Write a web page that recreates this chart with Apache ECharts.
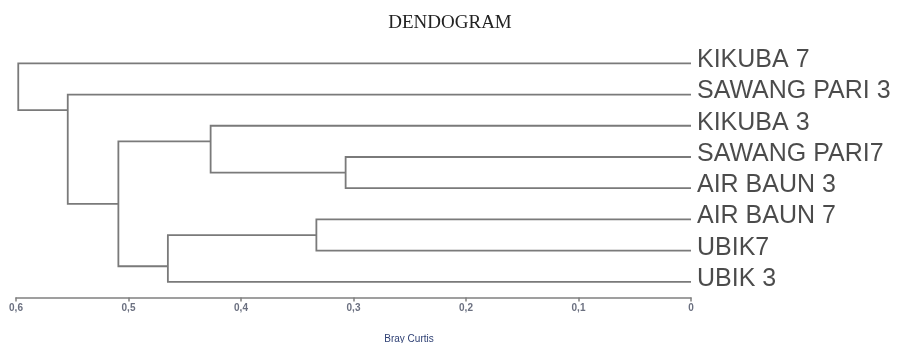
<!DOCTYPE html>
<html>
<head>
<meta charset="utf-8">
<script src="https://cdn.jsdelivr.net/npm/echarts@6/dist/echarts.min.js"></script>
<style>html,body{margin:0;padding:0;background:#fff}#c{width:900px;height:343px}</style>
</head>
<body>
<div id="c"></div>
<script>
// Leaves, top to bottom
const leaves = ['KIKUBA 7', 'SAWANG PARI 3', 'KIKUBA 3', 'SAWANG PARI7', 'AIR BAUN 3', 'AIR BAUN 7', 'UBIK7', 'UBIK 3'];
// Merges: node ids 0..7 are leaves, merge k creates node 8+k
const mergeA = [3, 5, 2, 9, 10, 1, 0];
const mergeB = [4, 6, 8, 7, 11, 12, 13];
const mergeHeight = [0.307, 0.333, 0.427, 0.465, 0.509, 0.554, 0.598];
const xTicks = [0, 0.1, 0.2, 0.3, 0.4, 0.5, 0.6];
const xName = 'Bray Curtis';
const titleText = 'DENDOGRAM';

// layout of nodes along the leaf axis
const n = leaves.length;
const nodeH = [], nodeY = [], firstLeaf = [], lastLeaf = [];
for (let i = 0; i < n; i++) { nodeH[i] = 0; nodeY[i] = i; firstLeaf[i] = i; lastLeaf[i] = i; }
mergeA.forEach((a, k) => {
  const b = mergeB[k], id = n + k;
  nodeH[id] = mergeHeight[k];
  firstLeaf[id] = Math.min(firstLeaf[a], firstLeaf[b]);
  lastLeaf[id] = Math.max(lastLeaf[a], lastLeaf[b]);
  nodeY[id] = (lastLeaf[a] + firstLeaf[b]) / 2;
});
const links = mergeA.map((a, k) => {
  const b = mergeB[k];
  return [mergeHeight[k], nodeY[a], nodeY[b], nodeH[a], nodeH[b]];
});

const chart = echarts.init(document.getElementById('c'));
chart.setOption({
  animation: false,
  title: [
    { text: titleText, left: 'center', top: 9,
      textStyle: { fontFamily: 'Liberation Serif', fontSize: 19, fontWeight: 'normal', color: '#222' } },
    { text: xName, left: 404, top: 329, textAlign: 'center',
      textStyle: { fontFamily: 'Liberation Sans', fontSize: 10, fontWeight: 'normal', color: '#2d3f73' } }
  ],
  grid: { left: 16, right: 209, top: 63.3, bottom: 45.5 },
  xAxis: {
    type: 'value', inverse: true, min: 0, max: 0.6, interval: 0.1,
    position: 'bottom',
    splitLine: { show: false },
    axisLine: { show: true, onZero: false, lineStyle: { color: '#808080', width: 1.5 } },
    axisTick: { show: true, length: 4, lineStyle: { color: '#808080', width: 1.5 } },
    axisLabel: { margin: 6, fontFamily: 'Liberation Sans', fontSize: 10, fontWeight: 'bold', color: '#6b7080',
      formatter: v => String(+v.toFixed(1)).replace('.', ',') }
  },
  yAxis: {
    type: 'value', inverse: true, min: 0, max: 7.5, show: false
  },
  series: [
    {
      type: 'custom',
      data: links,
      renderItem: (params, api) => {
        const h = api.value(0), ya = api.value(1), yb = api.value(2), ha = api.value(3), hb = api.value(4);
        const pts = [api.coord([ha, ya]), api.coord([h, ya]), api.coord([h, yb]), api.coord([hb, yb])];
        return { type: 'polyline', shape: { points: pts },
          style: { stroke: '#7a7a7a', lineWidth: 1.8, fill: null } };
      },
      encode: { x: [0, 3, 4], y: [1, 2] },
      silent: true
    },
    {
      type: 'scatter',
      symbolSize: 0,
      data: leaves.map((name, i) => [0, i, name]),
      label: { show: true, position: 'right', distance: 6, offset: [0, -3],
        formatter: p => p.data[2],
        fontFamily: 'Liberation Sans', fontSize: 25, color: '#1e1e1e' },
      silent: true
    }
  ]
});
</script>
</body>
</html>
